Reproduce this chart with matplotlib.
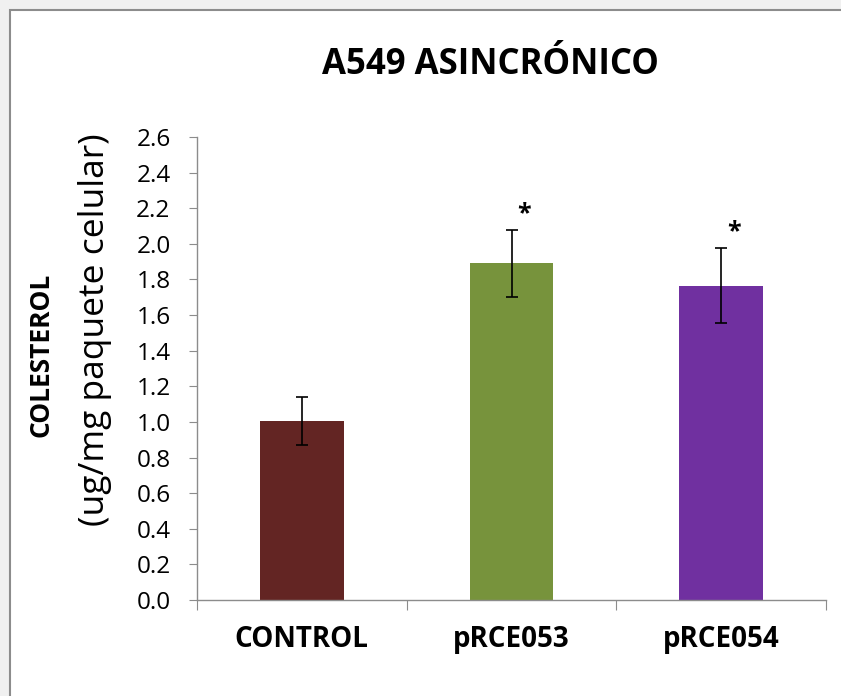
import matplotlib
matplotlib.use('Agg')
import matplotlib.pyplot as plt
import numpy as np
from matplotlib.patches import Rectangle

plt.rcParams['font.family'] = ['Open Sans', 'DejaVu Sans']

categories = ['CONTROL', 'pRCE053', 'pRCE054']
values = [1.005, 1.89, 1.765]
errors = [0.137, 0.19, 0.212]
signif = ['', '*', '*']
colors = ['#632523', '#77933C', '#7030A0']
yticks = np.arange(0, 2.61, 0.2)

fig = plt.figure(figsize=(8.41, 6.96), dpi=100)
fig.patch.set_facecolor('#f0f0f0')
# chart frame like an excel chart box
frame = Rectangle((10 / 841, -0.05), 1.0, 1 - 10 / 696 + 0.05, transform=fig.transFigure,
                  facecolor='white', edgecolor='#8c8c8c', lw=1.5, zorder=-10)
fig.patches.append(frame)

ax = fig.add_axes([197 / 841, 1 - 600 / 696, 629 / 841, 463 / 696])
ax.set_facecolor('none')

x = np.arange(len(categories))
ax.bar(x, values, width=0.4, color=colors, zorder=2)
ax.errorbar(x, values, yerr=errors, fmt='none', ecolor='black', elinewidth=1.2,
            capsize=4, capthick=1.2, zorder=3)
for i in range(len(categories)):
    if signif[i]:
        ax.text(x[i] + 0.06, values[i] + errors[i] + 0.02, signif[i], ha='center', va='bottom',
                fontsize=18, fontweight='bold')

ax.set_xlim(-0.5, 2.5)
ax.set_ylim(0, 2.6)
ax.set_yticks(yticks)
ax.set_yticklabels([f'{t:.1f}' for t in yticks], fontsize=17.5)
ax.set_xticks([-0.5, 0.5, 1.5, 2.5])
ax.set_xticklabels([])
ax.set_xticks(x, minor=True)
ax.set_xticklabels(categories, minor=True, fontsize=20, fontweight='bold')
ax.tick_params(axis='x', which='minor', length=0, pad=18)
ax.tick_params(axis='x', which='major', length=7, color='#8c8c8c', direction='out')
ax.tick_params(axis='y', length=6, color='#8c8c8c', direction='out', pad=13)

for s in ['top', 'right']:
    ax.spines[s].set_visible(False)
for s in ['left', 'bottom']:
    ax.spines[s].set_color('#8c8c8c')
    ax.spines[s].set_linewidth(1.0)

fig.text(490 / 841, 1 - 65 / 696, 'A549 ASINCRÓNICO', ha='center', va='center',
         fontsize=25, fontweight='bold')
fig.text(41 / 841, 1 - 355 / 696, 'COLESTEROL', rotation=90, ha='center', va='center',
         fontsize=19, fontweight='bold')
fig.text(95 / 841, 1 - 330 / 696, '(ug/mg paquete celular)', rotation=90, ha='center',
         va='center', fontsize=25.5)

fig.savefig('out.png', dpi=100, facecolor=fig.get_facecolor())
